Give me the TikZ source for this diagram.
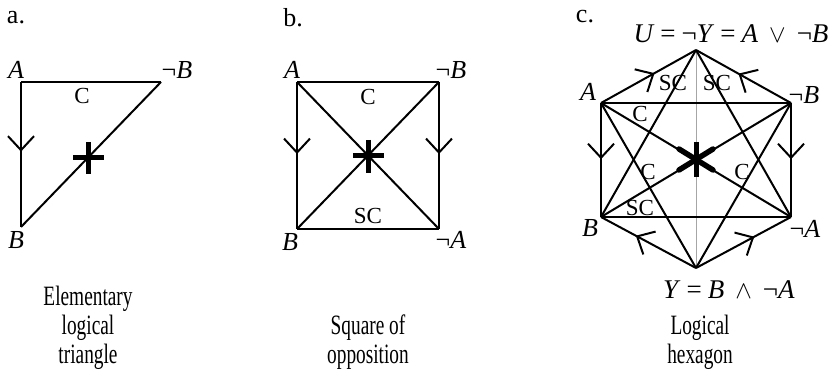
\documentclass[tikz,border=0pt]{standalone}
\usepackage{fontspec}
\setmainfont{Liberation Serif}
\newfontfamily\capfont[FakeStretch=0.69]{Liberation Serif}
\usetikzlibrary{decorations.markings}
\newcommand{\gapeq}{\hspace{6pt}=\hspace{6pt}}
\newcommand{\gapop}[1]{\hspace{11pt}$#1$\hspace{11pt}}
\begin{document}
\begin{tikzpicture}[x=1pt,y=-1pt,
  edge/.style={line width=2pt,line join=miter},
  thinline/.style={line width=0.6pt,gray!70},
  chev/.style={postaction={decorate,decoration={markings,
     mark=at position #1 with {\draw[line width=2pt] (-14pt,13pt) -- (0pt,0pt) -- (-14pt,-13pt);}}}},
  vlab/.style={font=\fontsize{26}{28}\selectfont,inner sep=0pt},
  plab/.style={font=\fontsize{26}{28}\selectfont,inner sep=0pt},
  elab/.style={font=\fontsize{23}{26}\selectfont,inner sep=0pt},
  biglab/.style={font=\fontsize{27}{29}\selectfont,inner sep=0pt},
  captext/.style={font=\capfont\fontsize{28}{29}\selectfont,align=center,inner sep=0pt},
  crs/.style={line width=5pt}]
\useasboundingbox (0,0) rectangle (837,374);

% ---------- panel a ----------
\node[plab] (la) at (16,18) {a.};
\coordinate (aA) at (21,82);
\coordinate (anB) at (161,82);
\coordinate (aB) at (21,227);
\draw[edge] (aA) -- (anB);
\draw[edge] (anB) -- (aB);
\draw[edge,chev=0.47] (aA) -- (aB);
\draw[crs] (73,158) -- (104,158);
\draw[crs] (88,142) -- (88,174);
\node[vlab] (laA) at (16,70) {\textit{A}};
\node[vlab] (lanB) at (177,70) {¬\textit{B}};
\node[vlab] (laB) at (16,240) {\textit{B}};
\node[elab] (laC) at (82,96) {C};
\node[captext] (capa) at (88,328) {Elementary\\logical\\triangle};

% ---------- panel b ----------
\node[plab] (lb) at (293,18) {b.};
\coordinate (bA) at (297,82);
\coordinate (bnB) at (439,82);
\coordinate (bB) at (297,229);
\coordinate (bnA) at (439,229);
\draw[edge] (bA) -- (bnB);
\draw[edge] (bB) -- (bnA);
\draw[edge,chev=0.48] (bA) -- (bB);
\draw[edge,chev=0.48] (bnB) -- (bnA);
\draw[edge] (bA) -- (bnA);
\draw[edge] (bnB) -- (bB);
\draw[crs] (353,156) -- (384,156);
\draw[crs] (368,140) -- (368,173);
\node[vlab] (lbA) at (292,70) {\textit{A}};
\node[vlab] (lbnB) at (451,70) {¬\textit{B}};
\node[vlab] (lbB) at (290,242) {\textit{B}};
\node[vlab] (lbnA) at (451,240) {¬\textit{A}};
\node[elab] (lbC) at (368,97) {C};
\node[elab] (lbSC) at (368,216) {SC};
\node[captext] (capb) at (368,342.5) {Square of\\opposition};

% ---------- panel c ----------
\node[plab] (lc) at (585,17) {c.};
\coordinate (cU) at (696,50);
\coordinate (cA) at (601,103);
\coordinate (cnB) at (791,103);
\coordinate (cB) at (601,217);
\coordinate (cnA) at (791,217);
\coordinate (cY) at (696,268);
\draw[thinline] (cU) -- (cY);
\draw[edge,chev=0.55] (cA) -- (cU);
\draw[edge,chev=0.54] (cnB) -- (cU);
\draw[edge,chev=0.48] (cA) -- (cB);
\draw[edge,chev=0.48] (cnB) -- (cnA);
\draw[edge,chev=0.62] (cY) -- (cB);
\draw[edge,chev=0.60] (cY) -- (cnA);
\draw[edge] (cA) -- (cnB);
\draw[edge] (cB) -- (cnA);
\draw[edge] (cA) -- (cnA);
\draw[edge] (cnB) -- (cB);
\draw[edge] (cU) -- (cB);
\draw[edge] (cU) -- (cnA);
\draw[edge] (cY) -- (cA);
\draw[edge] (cY) -- (cnB);
\draw[crs] (696,142) -- (696,177);
\draw[crs,line width=5.5pt,line cap=round] (679,149) -- (713,170);
\draw[crs,line width=5.5pt,line cap=round] (679,170) -- (713,149);
\node[biglab] (lcU) at (731,34) {\textit{U}\gapeq¬\textit{Y}\gapeq\textit{A}\gapop{\vee}¬\textit{B}};
\node[biglab] (lcY) at (729,290) {\textit{Y}\gapeq\textit{B}\gapop{\wedge}¬\textit{A}};
\node[vlab] (lcA) at (588,92) {\textit{A}};
\node[vlab] (lcnB) at (804,95) {¬\textit{B}};
\node[vlab] (lcB) at (590,228) {\textit{B}};
\node[vlab] (lcnA) at (805,229) {¬\textit{A}};
\node[elab] (lcSC1) at (673,83) {SC};
\node[elab] (lcSC2) at (717,83) {SC};
\node[elab] (lcC1) at (640,114) {C};
\node[elab] (lcC2) at (648,172) {C};
\node[elab] (lcC3) at (742,172) {C};
\node[elab] (lcSC3) at (640,208) {SC};
\node[captext] (capc) at (700,342.5) {Logical\\hexagon};
\end{tikzpicture}
\end{document}
